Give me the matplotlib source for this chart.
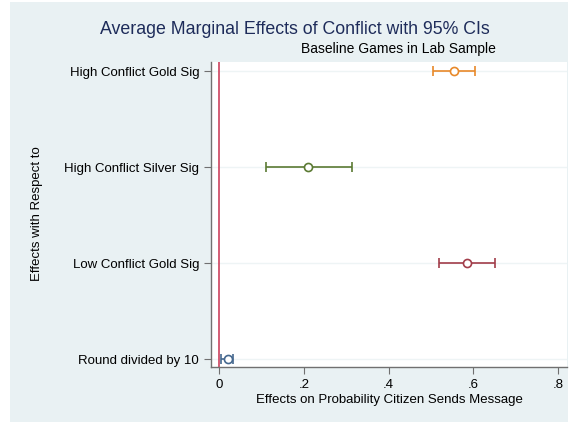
import numpy as np
import matplotlib.pyplot as plt
from matplotlib.patches import Rectangle

plt.rcParams['font.family'] = ['Liberation Sans', 'DejaVu Sans']

# Average marginal effects with 95% confidence bounds
labels = ["High Conflict Gold Sig", "High Conflict Silver Sig",
          "Low Conflict Gold Sig", "Round divided by 10"]
est = [0.554, 0.210, 0.585, 0.020]
ci_lo = [0.505, 0.111, 0.519, 0.005]
ci_hi = [0.604, 0.313, 0.651, 0.034]
colors = ["#e8892a", "#5b7a33", "#a23d4a", "#45688f"]

xticks = [0, 0.2, 0.4, 0.6, 0.8]
xticklabels = ["0", ".2", ".4", ".6", ".8"]

bg = "#e9f1f3"
fig = plt.figure(figsize=(5.7, 4.24), dpi=100, facecolor="white")
fig.patches.append(Rectangle((10 / 570, 2 / 424), 558 / 570, 420 / 424,
                             transform=fig.transFigure, facecolor=bg,
                             edgecolor="none", zorder=-1))

ax = fig.add_axes([211 / 570, 57 / 424, 356 / 570, 305 / 424])
ax.set_facecolor("white")

ypos = np.arange(len(labels))
for y, m, lo, hi, c in zip(ypos, est, ci_lo, ci_hi, colors):
    ax.errorbar(m, y, xerr=[[m - lo], [hi - m]], fmt="o", color=c,
                mfc="white", mec=c, ms=5.8, mew=1.2, elinewidth=1.2,
                capsize=3.5, capthick=1.2, zorder=3)

ax.axvline(0, color="#d0506a", lw=1.3, zorder=2)

ax.set_xlim(-0.019, 0.821)
ax.set_ylim(3 + 0.083, -0.094)
ax.set_yticks(ypos)
ax.set_yticklabels(labels, fontsize=9.5)
ax.set_xticks(xticks)
ax.set_xticklabels(xticklabels, fontsize=9.5)
ax.grid(axis="y", color="#eef4f5", lw=1.0, zorder=0)

for s in ["top", "right"]:
    ax.spines[s].set_visible(False)
for s in ["left", "bottom"]:
    ax.spines[s].set_color("#707070")
    ax.spines[s].set_linewidth(1.0)
ax.tick_params(colors="#707070", labelcolor="black", length=5, width=0.8)

ax.set_xlabel("Effects on Probability Citizen Sends Message", fontsize=9.5,
              labelpad=2)
fig.text(37 / 570, 1 - 214 / 424, "Effects with Respect to", rotation=90,
         ha="center", va="center", fontsize=9.5)

fig.text(295 / 570, 1 - 29 / 424,
         "Average Marginal Effects of Conflict with 95% CIs",
         ha="center", va="center", fontsize=12.8, color="#1e2c5a")
fig.text(496 / 570, 1 - 49 / 424, "Baseline Games in Lab Sample",
         ha="right", va="center", fontsize=10)

fig.savefig("out.png", dpi=100, facecolor=fig.get_facecolor())
